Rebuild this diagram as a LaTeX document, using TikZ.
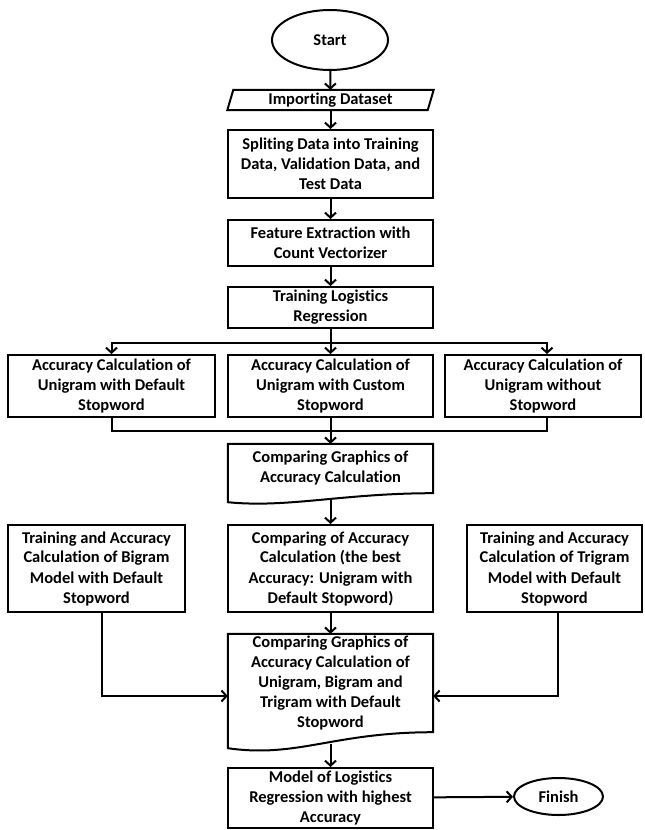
\documentclass[tikz,border=0pt]{standalone}
\usepackage{fontspec}
\setmainfont[Ligatures={NoCommon}]{Carlito}
\usetikzlibrary{shapes,arrows.meta}

\begin{document}
\begin{tikzpicture}[x=1pt,y=-1pt,
  every node/.style={font=\bfseries\fontsize{16.5}{20}\selectfont,align=center,inner sep=0pt},
  box/.style={draw,line width=2pt,rectangle,minimum width=205pt},
  term/.style={draw,line width=2pt,ellipse},
  doc/.style={rectangle,minimum width=205pt},
  conn/.style={line width=2pt},
  arr/.style={line width=2pt,-{Straight Barb[length=5pt,width=11pt,line width=2pt]}}]
\useasboundingbox (0,0) rectangle (645,830);
% main column
\node[term,minimum width=116pt,minimum height=60pt] (start) at (330,40) {Start};
\node[rectangle,minimum width=200pt,minimum height=20pt] (imp) at (330.5,100) {Importing Dataset};
\draw[conn] ([xshift=-3pt]imp.south west) -- ([xshift=3pt]imp.north west) -- ([xshift=3pt]imp.north east) -- ([xshift=-3pt]imp.south east) -- cycle;
\node[box,minimum height=68pt] (split) at (330.5,164) {Spliting Data into Training\\Data, Validation Data, and\\Test Data};
\node[box,minimum height=46pt] (feat) at (330.5,243) {Feature Extraction with\\Count Vectorizer};
\node[box,minimum height=41pt] (train) at (330.5,307.5) {Training Logistics\\Regression};
% unigram row
\node[box,minimum width=207pt,minimum height=62pt] (uni1) at (111.5,386) {Accuracy Calculation of\\Unigram with Default\\Stopword};
\node[box,minimum height=62pt] (uni2) at (330.5,386) {Accuracy Calculation of\\Unigram with Custom\\Stopword};
\node[box,minimum width=196pt,minimum height=62pt] (uni3) at (543,386) {Accuracy Calculation of\\Unigram without\\Stopword};
\node[doc,minimum height=49pt] (cmp1) at (330.5,468.5) {Comparing Graphics of\\Accuracy Calculation};
\draw[conn] (cmp1.north west) -- (cmp1.north east) -- (cmp1.south east) .. controls +(-90,0) and +(60,6) .. coordinate[pos=.5] (cmp1w) ([yshift=-9pt]cmp1.south west) -- cycle;
% n-gram row
\node[box,minimum width=177pt,minimum height=87pt] (bigram) at (96.5,568.5) {Training and Accuracy\\Calculation of Bigram\\Model with Default\\Stopword};
\node[box,minimum height=87pt] (best) at (330.5,568.5) {Comparing of Accuracy\\Calculation (the best\\Accuracy: Unigram with\\Default Stopword)};
\node[box,minimum width=175pt,minimum height=87pt] (trigram) at (554.5,568.5) {Training and Accuracy\\Calculation of Trigram\\Model with Default\\Stopword};
\node[doc,minimum height=98pt] (cmp2) at (330.5,683) {Comparing Graphics of\\Accuracy Calculation of\\Unigram, Bigram and\\Trigram with Default\\Stopword};
\draw[conn] (cmp2.north west) -- (cmp2.north east) -- (cmp2.south east) .. controls +(-100,0) and +(70,10) .. coordinate[pos=.5] (cmp2w) ([yshift=-16pt]cmp2.south west) -- cycle;
\node[box,minimum height=60pt] (model) at (330.5,798) {Model of Logistics\\Regression with highest\\Accuracy};
\node[term,minimum width=89pt,minimum height=37pt] (finish) at (558.5,796.5) {Finish};
% connectors
\draw[arr] (start) -- (imp);
\draw[arr] (imp) -- (split);
\draw[arr] (split) -- (feat);
\draw[arr] (feat) -- (train);
\draw[arr] (train.south) -- (uni2.north);
\draw[arr] (train.south) -- +(0,14) -| (uni1.north);
\draw[arr] (train.south) -- +(0,14) -| ([xshift=4pt]uni3.north);
\draw[conn] (uni1.south) -- +(0,13) -| ([xshift=4pt]uni3.south);
\draw[arr] (uni2.south) -- (cmp1.north);
\draw[arr] (best.north |- cmp1w) -- (best.north);
\draw[arr] ([xshift=5pt]bigram.south) |- ([yshift=-13pt]cmp2.west);
\draw[arr] ([xshift=3.5pt]trigram.south) |- ([yshift=-13pt]cmp2.east);
\draw[arr] (best) -- (cmp2);
\draw[arr] (model.north |- cmp2w) -- (model.north);
\draw[arr] (model) -- (finish);
\end{tikzpicture}
\end{document}
